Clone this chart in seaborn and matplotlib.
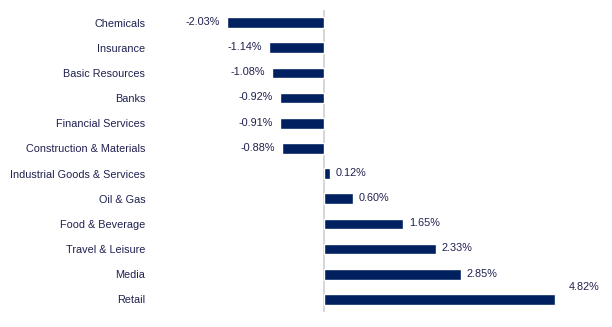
import matplotlib
matplotlib.use("Agg")
import matplotlib.pyplot as plt
import seaborn as sns
import pandas as pd

categories = ["Chemicals", "Insurance", "Basic Resources", "Banks", "Financial Services",
              "Construction & Materials", "Industrial Goods & Services", "Oil & Gas",
              "Food & Beverage", "Travel & Leisure", "Media", "Retail"]
values = [-2.03, -1.14, -1.08, -0.92, -0.91, -0.88, 0.12, 0.60, 1.65, 2.33, 2.85, 4.82]
value_labels = ["-2.03%", "-1.14%", "-1.08%", "-0.92%", "-0.91%", "-0.88%",
                "0.12%", "0.60%", "1.65%", "2.33%", "2.85%", "4.82%"]

sns.set_theme(style="white")
plt.rcParams['font.family'] = ['Liberation Sans', 'DejaVu Sans']

bar_color = "#002060"
text_color = "#1f2050"
fs = 7.8

df = pd.DataFrame({"sector": categories, "value": values})

fig = plt.figure(figsize=(6.12, 3.27), dpi=100)
ax = fig.add_axes([155/612, 1 - 312/327, (600-155)/612, 302/327])

sns.barplot(data=df, x="value", y="sector", orient="h", color=bar_color,
            width=0.42, saturation=1, ax=ax)

ax.set_xlim(-(324-155)/48.0, (600-324)/48.0)
ax.set_ylim(len(categories) - 0.5, -0.5)
ax.axvline(0, color="#d0d0d0", lw=1.2, zorder=0)

for s in ax.spines.values():
    s.set_visible(False)
ax.set_xticks([])
ax.set_xlabel("")
ax.set_ylabel("")
ax.tick_params(axis="y", length=0, pad=7, labelsize=fs, labelcolor=text_color)

n = len(categories)
for i, (v, lab) in enumerate(zip(values, value_labels)):
    if i == n - 1:
        ax.annotate(lab, (v, i), xytext=(10, 9), textcoords="offset points",
                    ha="left", va="center", fontsize=fs, color=text_color)
    elif v < 0:
        ax.annotate(lab, (v, i), xytext=(-5, 0.5), textcoords="offset points",
                    ha="right", va="center", fontsize=fs, color=text_color)
    else:
        ax.annotate(lab, (v, i), xytext=(4, 0.5), textcoords="offset points",
                    ha="left", va="center", fontsize=fs, color=text_color)

fig.savefig("out.png", dpi=100)
